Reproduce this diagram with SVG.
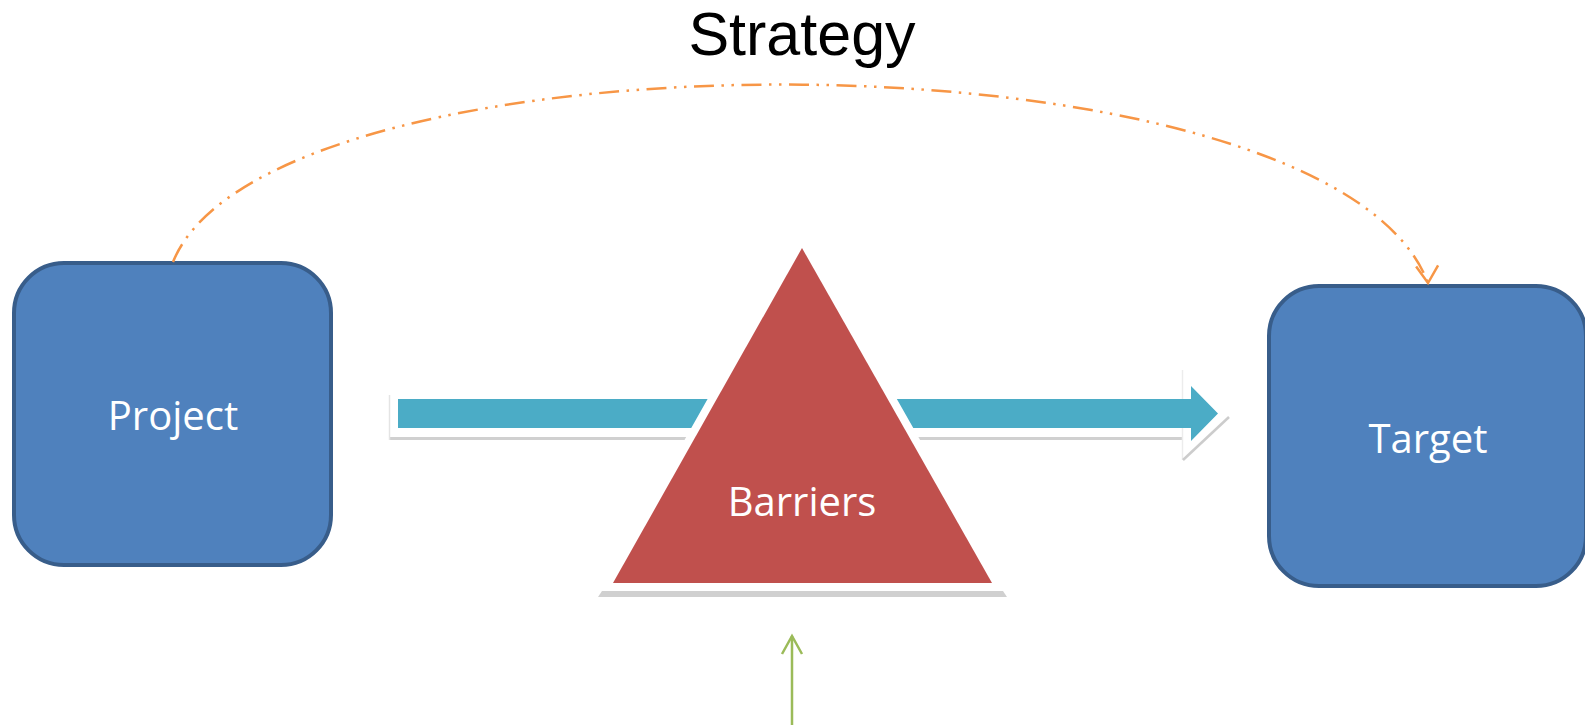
<svg xmlns="http://www.w3.org/2000/svg" width="1585" height="725" viewBox="0 0 1585 725">
  <style>
    .box { fill: #4f81bd; stroke: #385d8a; stroke-width: 4; }
    .label { font-family: "Open Sans", "Noto Sans", sans-serif; font-size: 40px; fill: #ffffff; text-anchor: middle; }
    .title { font-family: "Liberation Sans", Arial, sans-serif; font-size: 61px; fill: #000000; text-anchor: middle; }
    .shadow { fill: #d0d0d0; }
    .strategy { fill: none; stroke: #f79646; stroke-width: 2.5; stroke-dasharray: 20 7.5 2.5 7.5 2.5 7.5; }
    .push { fill: none; stroke: #9bbb59; stroke-width: 2.5; }
  </style>
  <defs>
    <marker id="head-orange" markerUnits="userSpaceOnUse" viewBox="-22 -14 26 28" markerWidth="26" markerHeight="28" refX="0" refY="0" orient="87">
      <path d="M -17 -11 L 0 0 L -17 11" fill="none" stroke="#f79646" stroke-width="2.5" stroke-linejoin="miter"/>
    </marker>
    <marker id="head-green" markerUnits="userSpaceOnUse" viewBox="-22 -14 26 28" markerWidth="26" markerHeight="28" refX="0" refY="0" orient="-90">
      <path d="M -18 -10 L 0 0 L -18 10" fill="none" stroke="#9bbb59" stroke-width="2.5" stroke-linejoin="miter"/>
    </marker>
  </defs>

  <rect width="1585" height="725" fill="#ffffff"/>

  <!-- title -->
  <text class="title" x="802" y="55">Strategy</text>

  <!-- flow arrow with its soft shadow -->
  <g id="flow">
    <rect class="shadow" x="389" y="437" width="793" height="3"/>
    <line x1="389.5" y1="395" x2="389.5" y2="440" stroke="#e4e4e4" stroke-width="1.5"/>
    <line x1="1182.5" y1="370" x2="1182.5" y2="460" stroke="#ececec" stroke-width="1.5"/>
    <line x1="1183" y1="460" x2="1229" y2="417" stroke="#cccccc" stroke-width="2.5"/>
    <polygon points="398,399 1191,399 1191,386 1218,413.5 1191,441 1191,428 398,428" fill="#4bacc6"/>
  </g>

  <!-- nodes -->
  <g id="project">
    <rect class="box" x="14" y="263" width="317" height="302" rx="50" ry="50"/>
    <text class="label" x="173" y="430">Project</text>
  </g>

  <g id="target">
    <rect class="box" x="1269" y="286" width="317" height="300" rx="50" ry="50"/>
    <text class="label" x="1428" y="453">Target</text>
  </g>

  <g id="barriers">
    <polygon class="shadow" points="602,591 1003,591 1007,597 598,597"/>
    <polygon points="802,248 613,583 992,583" fill="#c0504d" stroke="#ffffff" stroke-width="16" paint-order="stroke"/>
    <text class="label" x="802" y="516">Barriers</text>
  </g>

  <!-- connectors -->
  <g id="connectors">
    <path class="strategy" d="M 173 262 C 270 22 1330 22 1428 283" marker-end="url(#head-orange)"/>
    <line class="push" x1="792" y1="725" x2="792" y2="636" marker-end="url(#head-green)"/>
  </g>
</svg>
